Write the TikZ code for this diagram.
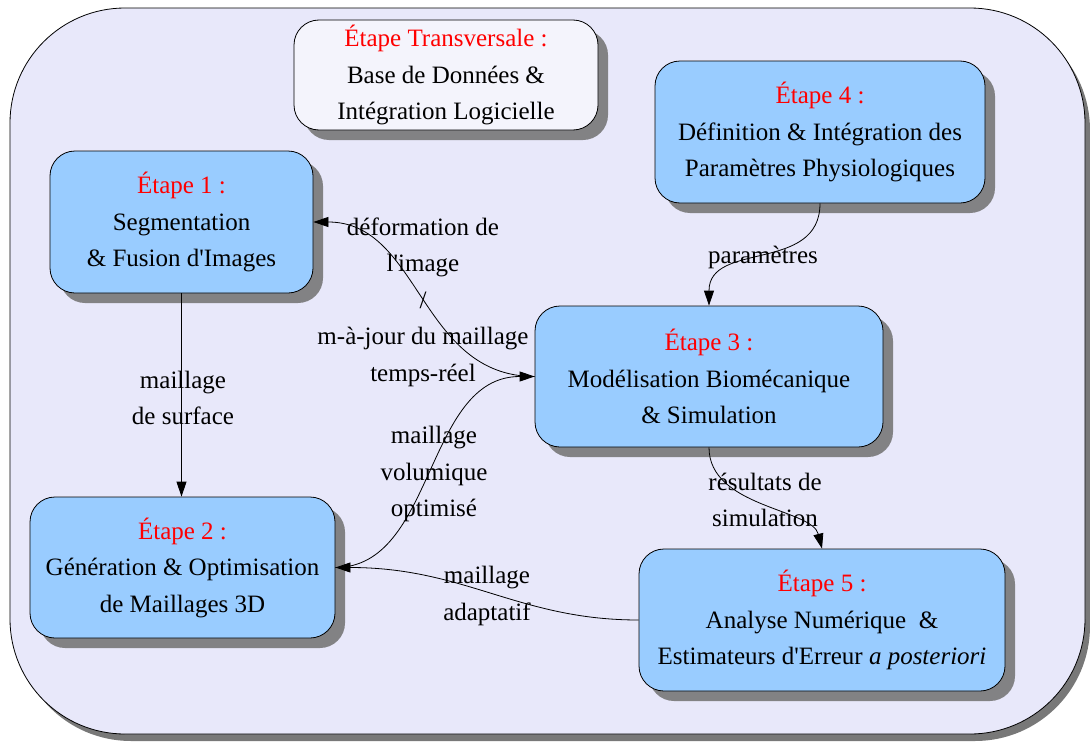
\documentclass[tikz,border=0pt]{standalone}
\usepackage{fontspec}
\setmainfont{Liberation Serif}
\usetikzlibrary{arrows.meta,shadows}
\definecolor{framefill}{RGB}{232,232,250}
\definecolor{boxblue}{RGB}{153,204,255}
\definecolor{transfill}{RGB}{244,244,252}
\definecolor{steprd}{RGB}{255,0,0}
\definecolor{shadowgray}{RGB}{120,120,120}
\newcommand{\stp}[1]{\textcolor{steprd}{#1}}
\newcommand{\apo}{\textquotesingle}
\begin{document}
\begin{tikzpicture}[x=1pt,y=-1pt,
  txt/.style={font=\fontsize{25pt}{36.5pt}\selectfont, align=center, inner sep=1pt},
  stagebox/.style={txt, draw=black, line width=0.8pt, fill=boxblue, rounded corners=25pt,
     general shadow={fill=shadowgray, shadow xshift=10pt, shadow yshift=-10pt, opacity=0.9}},
  lab/.style={txt},
  conn/.style={line width=0.8pt, draw=black},
  tip/.style={-{Triangle[length=15pt,width=10pt]}}
]
\useasboundingbox (0,0) rectangle (1090,744);
% outer frame
\path[fill=shadowgray, rounded corners=115pt] (16,15) rectangle (1090,741);
\draw[fill=framefill, line width=0.8pt, rounded corners=115pt] (10,8) rectangle (1085,734);

% nodes
\node[stagebox, fill=transfill, minimum width=304pt, minimum height=110pt] (et) at (446,75)
  {\stp{Étape Transversale :}\\Base de Données \&\\Intégration Logicielle};
\node[stagebox, minimum width=263pt, minimum height=142pt] (e1) at (181.5,222)
  {\stp{Étape 1 :}\\Segmentation\\\& Fusion d\apo Images};
\node[stagebox, minimum width=330pt, minimum height=142pt] (e4) at (820,132)
  {\stp{Étape 4 :}\\Définition \& Intégration des\\Paramètres Physiologiques};
\node[stagebox, minimum width=348pt, minimum height=141pt] (e3) at (709,376.5)
  {\stp{Étape 3 :}\\Modélisation Biomécanique\\\& Simulation};
\node[stagebox, minimum width=305pt, minimum height=141pt] (e2) at (182.5,567.5)
  {\stp{Étape 2 :}\\Génération \& Optimisation\\de Maillages 3D};
\node[stagebox, minimum width=366pt, minimum height=142pt] (e5) at (822,620)
  {\stp{Étape 5 :}\\Analyse Numérique~~\&\\Estimateurs d\apo Erreur \textit{a posteriori}};

% labels
\node[lab] (lsurf) at (183,398) {maillage\\de surface};
\node[lab] (ldef) at (423,302) {déformation de\\l\apo image\\/\\m-à-jour du maillage\\temps-réel};
\node[lab] (lvol) at (434,474) {maillage\\volumique\\optimisé};
\node[lab] (ladp) at (487,596) {maillage\\adaptatif};
\node[lab] (lres) at (765,500) {résultats de\\simulation};
\node[lab] (lpar) at (763,257) {paramètres};

% connectors
\draw[conn,tip] (e1.south) -- (e1.south |- e2.north);
\draw[conn,tip] (e3.west) .. controls +(-115,0) and +(107,0) .. (e1.east);
\draw[conn,tip] (e2.east) .. controls +(100,0) and +(-110,0) .. (e3.west);
\draw[conn,tip] (e5.west) .. controls +(-120,0) and +(130,0) .. (e2.east);
\draw[conn,tip] (e4.south) .. controls +(0,70) and +(0,-65) .. (e3.north);
\draw[conn,tip] (e3.south) .. controls +(0,60) and +(-10,-40) .. (e5.north);
\end{tikzpicture}
\end{document}
